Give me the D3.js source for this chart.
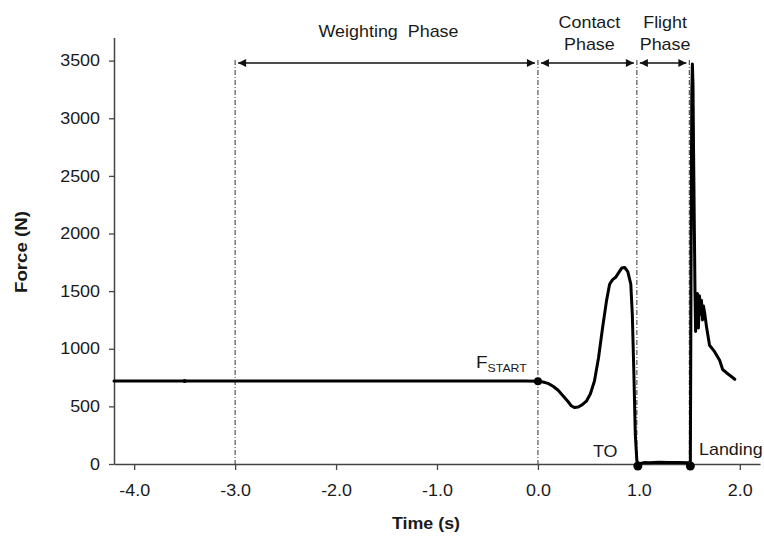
<!DOCTYPE html>
<html>
<head>
<meta charset="utf-8">
<script src="https://cdn.jsdelivr.net/npm/d3@7"></script>
<style>
  html, body { margin: 0; padding: 0; background: #fff; }
  svg { display: block; }
  text { font-family: "Liberation Sans", Arial, sans-serif; fill: #1a1a1a; }
</style>
</head>
<body>
<svg id="chart" width="764" height="536"></svg>
<script>
// ---- data ----
const time = [
  -4.2, -3.5, -2.0, -1.0, -0.12, 0.0,
  0.05, 0.10, 0.15, 0.20, 0.25, 0.30, 0.33, 0.36, 0.40, 0.44, 0.48, 0.52, 0.56,
  0.60, 0.64, 0.68, 0.71, 0.74, 0.77, 0.80, 0.83, 0.86, 0.89, 0.92, 0.935, 0.95,
  0.965, 0.98, 0.99,
  1.05, 1.10, 1.20, 1.30, 1.40, 1.50, 1.51,
  1.512, 1.518, 1.524, 1.53, 1.536, 1.542, 1.55, 1.556, 1.562, 1.57, 1.58, 1.59,
  1.60, 1.61, 1.62, 1.63, 1.64, 1.655, 1.67, 1.70, 1.75, 1.80, 1.83, 1.87, 1.90, 1.95
];
const force = [
  720, 720, 720, 720, 721, 718,
  712, 700, 675, 640, 590, 540, 505, 490, 495, 515, 545, 610, 720,
  920, 1180, 1420, 1560, 1600, 1620, 1660, 1700, 1705, 1670, 1560, 1300, 800,
  250, 30, 0,
  12, 10, 15, 12, 14, 10, 0,
  500, 2000, 3200, 3470, 3300, 2700, 2000, 1500, 1150, 1300, 1480, 1180,
  1460, 1300, 1420, 1250, 1370, 1290, 1190, 1030, 975, 900, 820, 790, 770, 735
];
const eventTimes = [-3.5, 0.0, 0.99, 1.51];
const eventForces = [720, 718, 0, 0];
const eventRadii = [2, 4, 4.5, 4.5];
const phaseLines = [-3.0, 0.0, 0.98, 1.5];
const phaseNames = [["Weighting\u00a0\u00a0Phase"], ["Contact", "Phase"], ["Flight", "Phase"]];
const xTicks = [-4, -3, -2, -1, 0, 1, 2];
const yTicks = [0, 500, 1000, 1500, 2000, 2500, 3000, 3500];

// ---- setup ----
const svg = d3.select("#chart");
const SX = 1.12;
const x = d3.scaleLinear().domain([-4.2, 2.2]).range([114, 760]);
const y = d3.scaleLinear().domain([0, 3700]).range([464, 37.6]);

function addText(str, px, py, opts = {}) {
  const t = svg.append("text")
    .attr("transform", `translate(${px},${py})${opts.rotate ? " rotate(" + opts.rotate + ")" : ""} scale(${opts.sx || SX},1)`)
    .attr("text-anchor", opts.anchor || "middle")
    .attr("font-size", opts.size || 16)
    .attr("font-weight", opts.weight || "normal")
    .text(str);
  return t;
}

// ---- phase dashed lines ----
svg.append("g").selectAll("line").data(phaseLines).join("line")
  .attr("x1", d => x(d)).attr("x2", d => x(d))
  .attr("y1", 60).attr("y2", y(0))
  .attr("stroke", "#555").attr("stroke-width", 1.2)
  .attr("stroke-dasharray", "5,2,1,2");

// ---- arrows ----
const defs = svg.append("defs");
defs.append("marker").attr("id", "ah").attr("viewBox", "0 0 10 10")
  .attr("refX", 10).attr("refY", 5)
  .attr("markerWidth", 9).attr("markerHeight", 8)
  .attr("markerUnits", "userSpaceOnUse")
  .attr("orient", "auto-start-reverse")
  .append("path").attr("d", "M0,0 L10,5 L0,10 Z").attr("fill", "#111");

const arrowY = 63;
for (let i = 0; i < phaseLines.length - 1; i++) {
  svg.append("line")
    .attr("x1", x(phaseLines[i]) + 3).attr("x2", x(phaseLines[i + 1]) - 3)
    .attr("y1", arrowY).attr("y2", arrowY)
    .attr("stroke", "#111").attr("stroke-width", 1.5)
    .attr("marker-start", "url(#ah)").attr("marker-end", "url(#ah)");
}

// ---- phase labels ----
phaseNames.forEach((lines, i) => {
  const cx = (x(phaseLines[i]) + x(phaseLines[i + 1])) / 2 + (i === 0 ? 2 : 2);
  if (lines.length === 1) {
    addText(lines[0], cx, 37);
  } else {
    addText(lines[0], cx, 28);
    addText(lines[1], cx, 50);
  }
});

// ---- axes ----
const xAxis = d3.axisBottom(x).tickValues(xTicks).tickSize(6).tickSizeOuter(0).tickPadding(15)
  .tickFormat(d => d.toFixed(1));
const gx = svg.append("g").attr("transform", `translate(0,${y(0)})`).call(xAxis);
const yAxis = d3.axisLeft(y).tickValues(yTicks).tickSize(5).tickSizeOuter(0).tickPadding(7.5)
  .tickFormat(d => String(d));
const gy = svg.append("g").attr("transform", `translate(${x(-4.2)},0)`).call(yAxis);

[gx, gy].forEach(g => {
  g.select(".domain").attr("stroke", "#444").attr("stroke-width", 1.5);
  g.selectAll(".tick line").attr("stroke", "#444").attr("stroke-width", 1.3);
  g.selectAll(".tick text")
    .attr("font-family", '"Liberation Sans", Arial, sans-serif')
    .attr("font-size", 16).attr("fill", "#1a1a1a")
    .attr("transform", `scale(${SX},1)`);
});

// ---- force curve ----
const pts = time.map((t, i) => [t, force[i]]);
svg.append("path").datum(pts)
  .attr("fill", "none").attr("stroke", "#000").attr("stroke-width", 3)
  .attr("stroke-linejoin", "round").attr("stroke-linecap", "round")
  .attr("d", d3.line().x(d => x(d[0])).y(d => y(d[1])));

svg.append("g").selectAll("circle").data(eventTimes).join("circle")
  .attr("cx", d => x(d)).attr("cy", (d, i) => y(eventForces[i]) + (eventForces[i] === 0 ? 2 : 0))
  .attr("r", (d, i) => eventRadii[i]).attr("fill", "#000");

// ---- annotations ----
const fs = addText("F", 476, 368, { anchor: "start", size: 17 });
fs.append("tspan").attr("font-size", 11).attr("dy", 4).text("START");
addText("TO", 593, 457, { anchor: "start" });
addText("Landing", 699, 455, { anchor: "start" });

// ---- axis titles ----
addText("Time (s)", 426, 529, { weight: "bold", size: 17, sx: 1.05 });
addText("Force (N)", 27, 252, { weight: "bold", size: 17, sx: 1.1, rotate: -90 });
</script>
</body>
</html>
